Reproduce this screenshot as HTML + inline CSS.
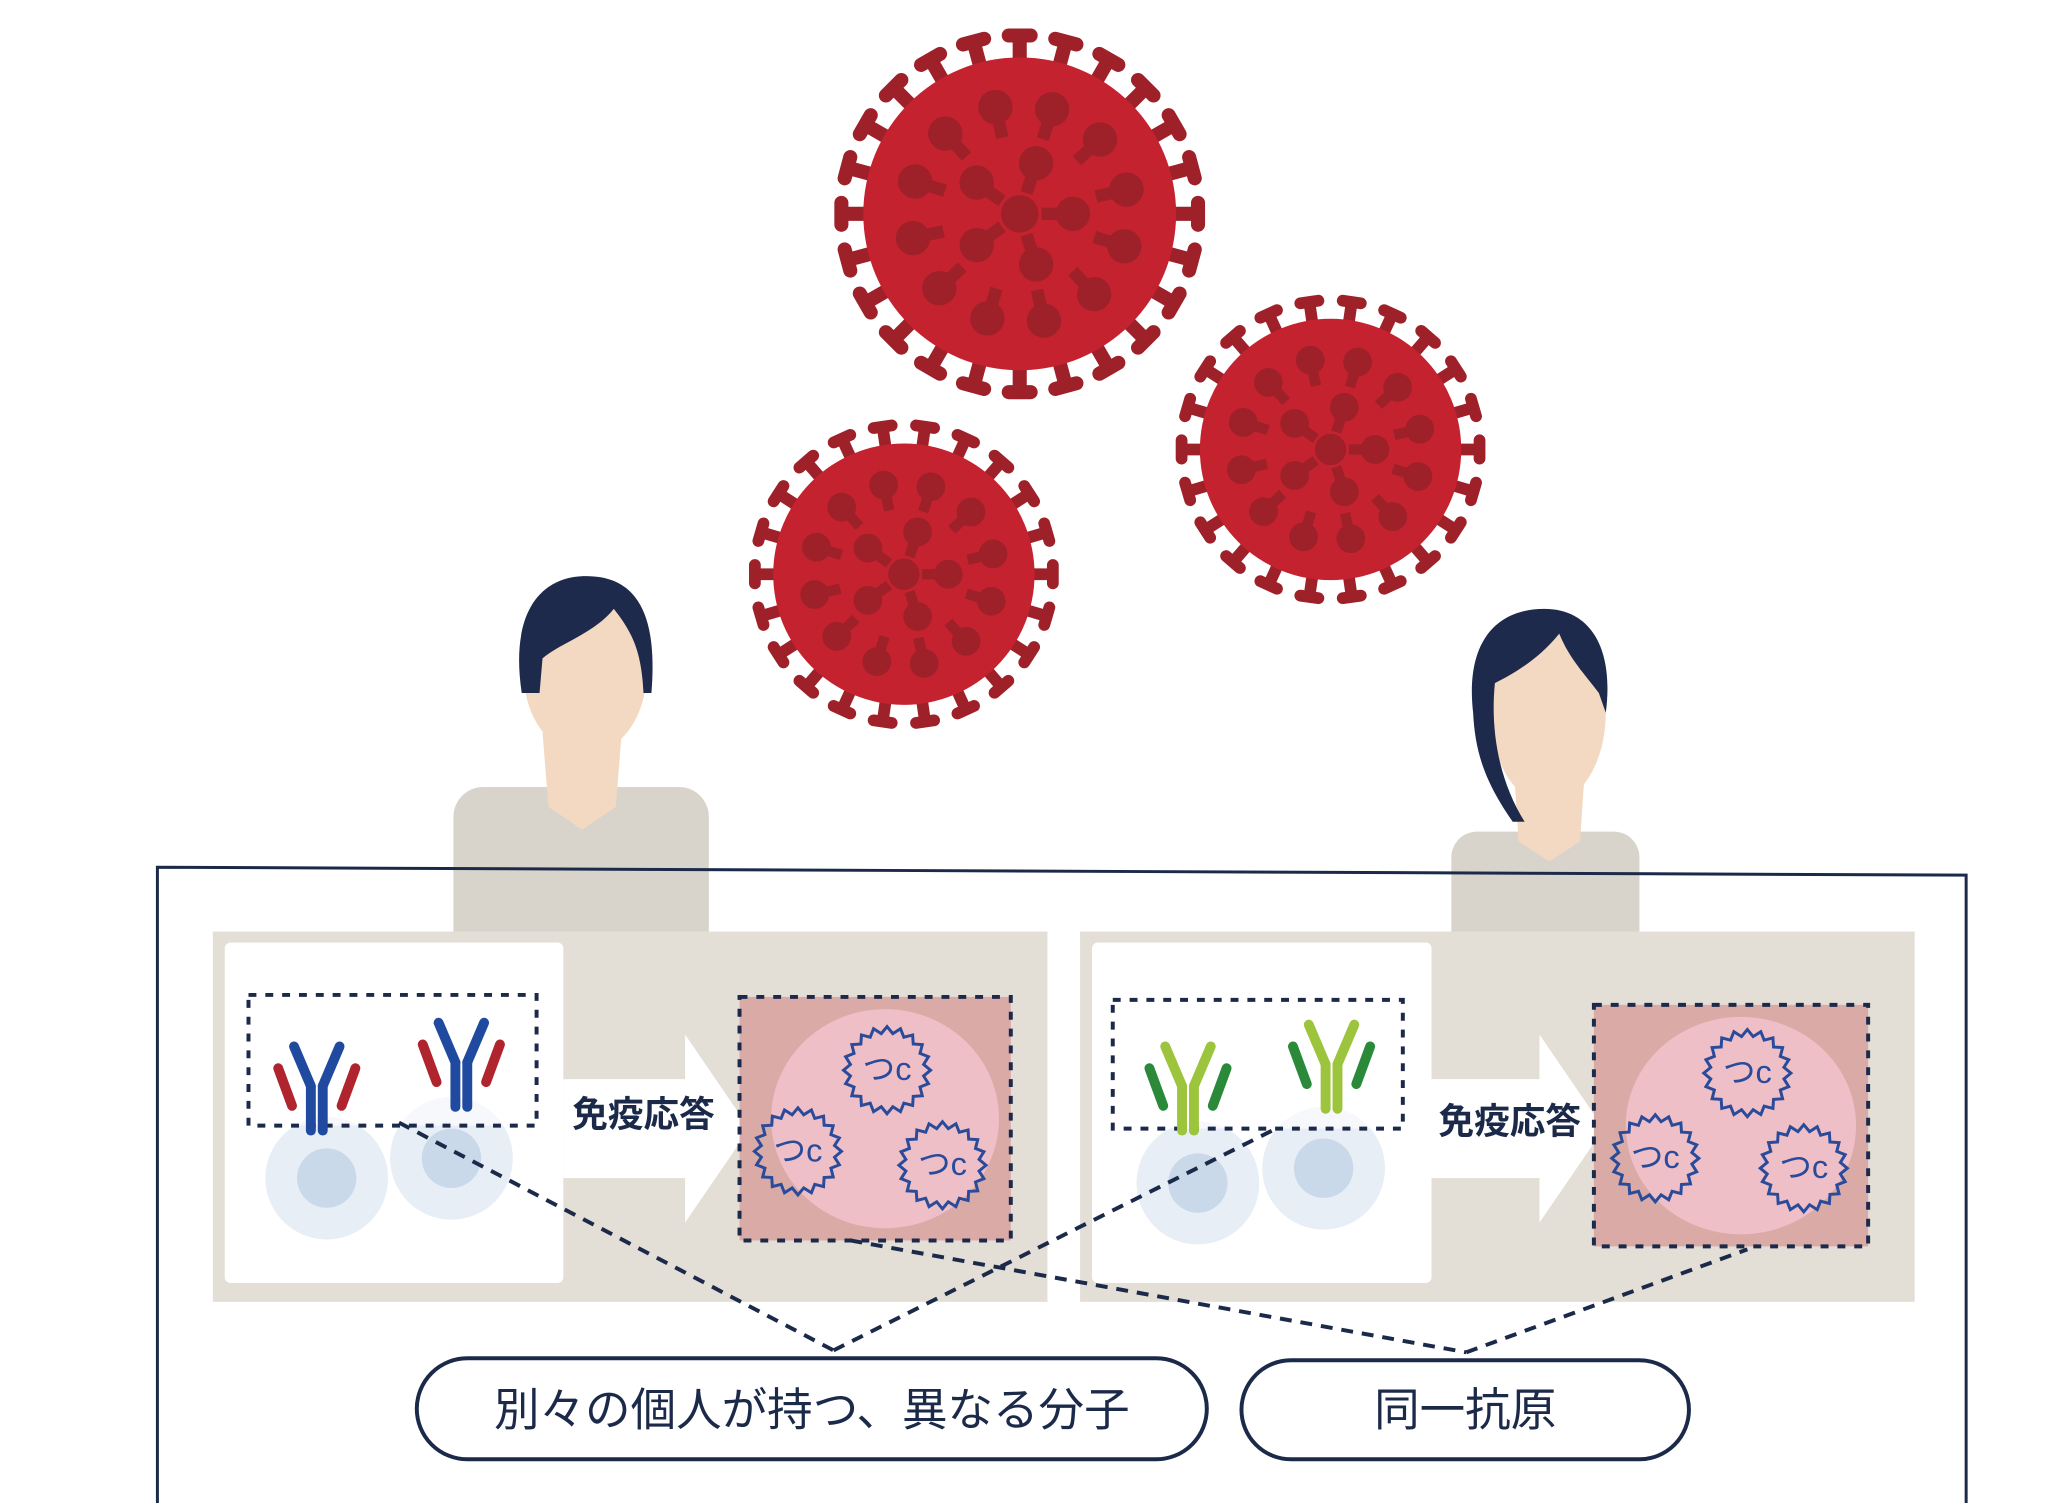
<!DOCTYPE html>
<html><head><meta charset="utf-8"><style>
html,body{margin:0;padding:0;background:#fff;}
svg{display:block;}
text{font-family:"Liberation Sans","Noto Sans CJK JP",sans-serif;fill:#1c2a4a;}
</style></head><body>
<svg id="s" width="2053" height="1503" viewBox="0 0 2053 1503" xmlns="http://www.w3.org/2000/svg">
<g transform="scale(0.99)">
<g id="viruses"></g>
<!-- man -->
<g>
<rect x="458" y="795" width="258" height="200" rx="30" fill="#d9d4cb"/>
<path d="M548 740 L628 740 L622 815 L588 838 L554 815 Z" fill="#f3d9c2"/>
<ellipse cx="591" cy="680" rx="62" ry="82" fill="#f3d9c2"/>
<path d="M527 700 C515 620 545 582 592 582 C640 582 665 615 658 700 L650 700 C648 660 640 640 620 615 C600 640 565 650 548 665 L545 700 Z" fill="#1e2a4c"/>
</g>
<!-- woman -->
<g>
<rect x="1466" y="840" width="190" height="160" rx="26" fill="#d9d4cb"/>
<path d="M1530 790 L1600 790 L1596 850 L1565 870 L1534 850 Z" fill="#f3d9c2"/>
<ellipse cx="1564" cy="720" rx="58" ry="92" fill="#f3d9c2"/>
<path d="M1488 720 C1480 650 1510 615 1560 615 C1610 615 1630 660 1622 720 L1615 700 C1600 680 1585 665 1575 640 C1555 665 1530 680 1510 690 C1505 740 1515 790 1540 830 L1528 830 C1500 790 1490 760 1488 720 Z" fill="#1e2a4c"/>
</g>
<!-- outer box -->
<polyline points="159,1520 159,876 1986,884 1986,1520" fill="none" stroke="#1c2a4a" stroke-width="3"/>
<g id="panels"></g>
<g stroke="#1c2a4a" stroke-width="4" stroke-dasharray="12,9" fill="none">
<line x1="403" y1="1134" x2="842" y2="1364"/>
<line x1="842" y1="1364" x2="1289" y2="1140"/>
<line x1="859" y1="1253" x2="1481" y2="1366"/>
<line x1="1481" y1="1366" x2="1765" y2="1262"/>
</g>
<rect x="421" y="1372" width="798" height="102" rx="51" fill="#fff" stroke="#1c2a4a" stroke-width="4"/>
<rect x="1254" y="1374" width="452" height="100" rx="50" fill="#fff" stroke="#1c2a4a" stroke-width="4"/>
<text x="820" y="1440" font-size="46" text-anchor="middle">別々の個人が持つ、異なる分子</text>
<text x="1480" y="1440" font-size="46" text-anchor="middle">同一抗原</text>
</g>
</svg>
<script>
var NS="http://www.w3.org/2000/svg";
function el(t,a,p){var e=document.createElementNS(NS,t);for(var k in a)e.setAttribute(k,a[k]);p.appendChild(e);return e;}
var vg=document.getElementById("viruses");
function virus(cx,cy,R,n){
  var g=el("g",{},vg);
  for(var i=0;i<n;i++){var a=i/n*2*Math.PI;
    var x1=cx+Math.cos(a)*R*0.9,y1=cy+Math.sin(a)*R*0.9,x2=cx+Math.cos(a)*R*1.1,y2=cy+Math.sin(a)*R*1.1;
    el("line",{x1:x1,y1:y1,x2:x2,y2:y2,stroke:"#9e2029","stroke-width":R*0.09},g);
    var px=-Math.sin(a),py=Math.cos(a),ex=x2+Math.cos(a)*R*0.04,ey=y2+Math.sin(a)*R*0.04;
    el("line",{x1:ex-px*R*0.07,y1:ey-py*R*0.07,x2:ex+px*R*0.07,y2:ey+py*R*0.07,stroke:"#9e2029","stroke-width":R*0.09,"stroke-linecap":"round"},g);}
  el("circle",{cx:cx,cy:cy,r:R,fill:"#c52230"},g);
  el("circle",{cx:cx,cy:cy,r:R*0.12,fill:"#9e2029"},g);
  for(var j=0;j<2;j++){var m=j?12:5,rr=j?0.7:0.34;
   for(var i=0;i<m;i++){var a=i/m*2*Math.PI+j*0.3;
    var x=cx+Math.cos(a)*R*rr,y=cy+Math.sin(a)*R*rr;
    el("circle",{cx:x,cy:y,r:R*0.11,fill:"#9e2029"},g);
    el("line",{x1:x,y1:y,x2:cx+Math.cos(a)*R*(rr-0.2),y2:cy+Math.sin(a)*R*(rr-0.2),stroke:"#9e2029","stroke-width":R*0.08},g);}}
}
virus(1030,216,158,24);
virus(913,580,132,22);
virus(1344,454,132,22);
var pg=document.getElementById("panels");
function antigen(cx,cy,r,g){
  var d="";for(var i=0;i<=40;i++){var a=i/40*2*Math.PI,rr=(i%2?r*0.85:r);d+=(i?"L":"M")+(cx+Math.cos(a)*rr)+" "+(cy+Math.sin(a)*rr);}
  el("path",{d:d+"Z",fill:"none",stroke:"#2a4a9a","stroke-width":3},g);
  var t=el("text",{x:cx,y:cy+10,"font-size":r*0.75,"text-anchor":"middle",style:"fill:#2a4a9a"},g);t.textContent="つc";
}
function ab(x,y,c1,c2,g){
  function L(a,b,c,d,col){el("line",{x1:a,y1:b,x2:c,y2:d,stroke:col,"stroke-width":10,"stroke-linecap":"round"},g);}
  L(x-3,y+45,x-3,y,c1);L(x+9,y+45,x+9,y,c1);
  L(x-3,y,x-20,y-40,c1);L(x+9,y,x+26,y-40,c1);
  L(x-22,y+20,x-36,y-18,c2);L(x+28,y+20,x+42,y-18,c2);
}
function panel(ox,wbW,abBox,pink,ags,c1,c2,abs,cells,txt){
  var g=el("g",{},pg);
  el("rect",{x:ox,y:941,width:843,height:374,fill:"#e3ded6"},g);
  el("rect",{x:ox+12,y:952,width:wbW,height:344,rx:6,fill:"#fff"},g);
  var ax=ox+12+wbW;
  el("path",{d:"M"+ax+" 1090 L"+(pink[0]-55)+" 1090 L"+(pink[0]-55)+" 1045 L"+(pink[0]+10)+" 1140 L"+(pink[0]-55)+" 1235 L"+(pink[0]-55)+" 1190 L"+ax+" 1190Z",fill:"#fff"},g);
  cells.forEach(function(c){el("circle",{cx:c[0],cy:c[1],r:62,fill:"#e8eef6"},g);el("circle",{cx:c[0],cy:c[1],r:30,fill:"#c9d9ea"},g);});
  el("rect",{x:abBox[0],y:abBox[1],width:abBox[2],height:abBox[3],fill:"rgba(255,255,255,0.6)",stroke:"#1c2a4a","stroke-width":4,"stroke-dasharray":"8,9"},g);
  abs.forEach(function(a){ab(a[0],a[1],c1,c2,g);});
  el("rect",{x:pink[0],y:pink[1],width:pink[2],height:pink[3],fill:"#d9aaa6",stroke:"#1c2a4a","stroke-width":4,"stroke-dasharray":"8,9"},g);
  el("ellipse",{cx:pink[0]+pink[2]/2+10,cy:pink[1]+pink[3]/2,rx:pink[2]*0.42,ry:pink[3]*0.45,fill:"#eebfc7"},g);
  ags.forEach(function(a){antigen(a[0],a[1],44,g);});
  var t=el("text",{x:txt[0],y:txt[1],"font-size":36,"text-anchor":"middle","font-weight":"bold"},g);t.textContent="免疫応答";
}
panel(215,342,[251,1005,291,132],[747,1007,274,246],[[896,1081],[806,1163],[952,1177]],"#1f4aa0","#b0242e",[[317,1097],[463,1073]],[[330,1190],[456,1170]],[650,1138]);
panel(1091,343,[1124,1010,293,130],[1610,1015,277,244],[[1765,1084],[1672,1170],[1822,1180]],"#9cc43c","#2a8a3a",[[1197,1097],[1342,1075]],[[1210,1195],[1337,1180]],[1525,1145]);
</script>
</body></html>
